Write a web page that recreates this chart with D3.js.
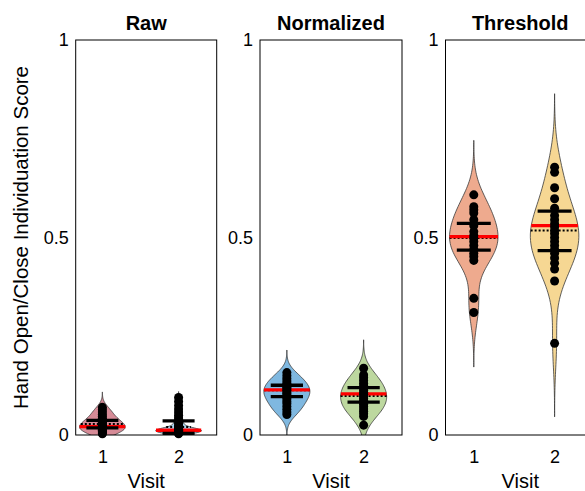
<!DOCTYPE html>
<html>
<head>
<meta charset="utf-8">
<script src="https://cdn.jsdelivr.net/npm/d3@7"></script>
<style>
  html, body { margin: 0; padding: 0; background: #fff; }
  svg { display: block; font-family: Arial, "Liberation Sans", sans-serif; }
</style>
</head>
<body>
<svg id="chart" width="585" height="491"></svg>
<script>
// ---- data ----
const panelTitles = ["Raw", "Normalized", "Threshold"];
const visits = [1, 2];
const yTicks = [0, 0.5, 1];

// individual scores per visit
const rawVisit1 = [0.070, 0.064, 0.058, 0.052, 0.047, 0.042, 0.038, 0.035, 0.032, 0.029, 0.026, 0.024,
                   0.022, 0.020, 0.018, 0.016, 0.014, 0.012, 0.010, 0.008, 0.005, 0.003];
const rawVisit2 = [0.095, 0.085, 0.075, 0.066, 0.058, 0.050, 0.043, 0.036, 0.030, 0.025,
                   0.020, 0.018, 0.016, 0.015, 0.014, 0.013, 0.012, 0.011, 0.010, 0.009,
                   0.008, 0.007, 0.006, 0.005, 0.003];
const normVisit1 = [0.158, 0.150, 0.143, 0.137, 0.131, 0.126, 0.121, 0.117, 0.113, 0.109,
                    0.105, 0.101, 0.096, 0.091, 0.085, 0.079, 0.072, 0.065, 0.058, 0.052];
const normVisit2 = [0.169, 0.152, 0.145, 0.138, 0.131, 0.125, 0.119, 0.113, 0.108, 0.103,
                    0.098, 0.093, 0.088, 0.083, 0.078, 0.072, 0.066, 0.060, 0.054, 0.047, 0.025];
const threshVisit1 = [0.608, 0.578, 0.570, 0.562, 0.545, 0.530, 0.515, 0.505, 0.498, 0.490,
                      0.480, 0.470, 0.460, 0.452, 0.442, 0.346, 0.310];
const threshVisit2 = [0.678, 0.665, 0.626, 0.598, 0.574, 0.556, 0.545, 0.535, 0.527, 0.518,
                      0.510, 0.500, 0.490, 0.480, 0.470, 0.460, 0.448, 0.435, 0.420, 0.390, 0.232];

// kernel bandwidth per violin
const bandwidths = [[0.013, 0.005], [0.019, 0.024], [0.046, 0.062]];

// summary statistics per violin
const medians = [[0.021, 0.012], [0.114, 0.104], [0.502, 0.530]];
const lowerQuartiles = [[0.018, 0.004], [0.097, 0.083], [0.468, 0.467]];
const upperQuartiles = [[0.037, 0.036], [0.126, 0.120], [0.536, 0.567]];
const means = [[0.028, 0.020], [0.113, 0.099], [0.499, 0.518]];

const scores = [[rawVisit1, rawVisit2], [normVisit1, normVisit2], [threshVisit1, threshVisit2]];

// ---- styling ----
const violinFill = [["#d68b97", "#a9d4ee"], ["#7fb8e0", "#bdd89f"], ["#eeaa8e", "#f6d793"]];
const panelRanges = [[75.7, 216.7], [260, 402], [445.5, 595]];
const plotTop = 40, plotBottom = 435;
const violinHalfWidth = 0.3;   // in x-axis units
const quartileHalfWidth = 0.21;
const FONT = "Arial, 'Liberation Sans', sans-serif";

const svg = d3.select("#chart");

const y = d3.scaleLinear().domain([0, 1]).range([plotBottom, plotTop]);

// gaussian kernel density, normalised to a peak of 1
function kde(values, bw) {
  const lo = d3.min(values) - 3 * bw, hi = d3.max(values) + 3 * bw;
  const n = 100;
  const grid = d3.range(n).map(i => lo + (hi - lo) * i / (n - 1));
  const dens = grid.map(g => d3.sum(values, v => Math.exp(-0.5 * ((g - v) / bw) ** 2)));
  const mx = d3.max(dens);
  return grid.map((g, i) => [g, dens[i] / mx]);
}

function widthAt(profile, v) {
  if (v <= profile[0][0] || v >= profile[profile.length - 1][0]) return 0;
  const i = d3.bisector(d => d[0]).left(profile, v);
  const a = profile[i - 1], b = profile[i];
  const t = (v - a[0]) / (b[0] - a[0]);
  return a[1] + t * (b[1] - a[1]);
}

panelTitles.forEach((title, p) => {
  const [x0, x1] = panelRanges[p];
  const x = d3.scaleLinear().domain([0.65, 2.5]).range([x0, x1]);
  const g = svg.append("g");

  const clipId = "clip" + p;
  svg.append("clipPath").attr("id", clipId)
    .append("rect").attr("x", x0).attr("y", plotTop).attr("width", x1 - x0).attr("height", plotBottom - plotTop);

  // y-axis (labels only, no tick marks)
  const yAxis = d3.axisLeft(y).tickValues(yTicks).tickSize(0).tickPadding(7)
    .tickFormat(d => d === 0 || d === 1 ? String(d) : d3.format(".1f")(d));
  const ya = g.append("g").attr("transform", `translate(${x0},0)`).call(yAxis);
  ya.select(".domain").remove();
  ya.selectAll("text").attr("font-size", 18).attr("fill", "#000").attr("font-family", FONT);

  // x-axis (labels only)
  const xAxis = d3.axisBottom(x).tickValues(visits).tickSize(0).tickPadding(15).tickFormat(d3.format("d"));
  const xa = g.append("g").attr("transform", `translate(0,${plotBottom})`).call(xAxis);
  xa.select(".domain").remove();
  xa.selectAll("text").attr("font-size", 18).attr("fill", "#000").attr("font-family", FONT);

  const plot = g.append("g").attr("clip-path", `url(#${clipId})`);

  visits.forEach((v, k) => {
    const vals = scores[p][k];
    const profile = kde(vals, bandwidths[p][k]);
    const cx = x(v);
    const unit = x(1) - x(0);
    const pts = profile.map(d => [cx - d[1] * violinHalfWidth * unit, y(d[0])])
      .concat(profile.slice().reverse().map(d => [cx + d[1] * violinHalfWidth * unit, y(d[0])]));
    plot.append("path")
      .attr("d", d3.line()(pts) + "Z")
      .attr("fill", violinFill[p][k])
      .attr("stroke", "#3a3a3a")
      .attr("stroke-width", 0.8);

    // mean (dotted, beneath the median)
    const mn = means[p][k];
    const mnw = widthAt(profile, mn) * violinHalfWidth;
    plot.append("line")
      .attr("x1", x(v - mnw)).attr("x2", x(v + mnw))
      .attr("y1", y(mn)).attr("y2", y(mn))
      .attr("stroke", "#000").attr("stroke-width", 2)
      .attr("stroke-dasharray", "2,2");

    // median
    const med = medians[p][k];
    const mw = widthAt(profile, med) * violinHalfWidth;
    plot.append("line")
      .attr("x1", x(v - mw)).attr("x2", x(v + mw))
      .attr("y1", y(med)).attr("y2", y(med))
      .attr("stroke", "#ff0000").attr("stroke-width", 3.3);

    // quartiles
    [lowerQuartiles[p][k], upperQuartiles[p][k]].forEach(q => {
      plot.append("line")
        .attr("x1", x(v - quartileHalfWidth)).attr("x2", x(v + quartileHalfWidth))
        .attr("y1", y(q)).attr("y2", y(q))
        .attr("stroke", "#000").attr("stroke-width", 3.3);
    });

    // individual scores
    g.append("g").selectAll("circle").data(vals).join("circle")
      .attr("cx", cx).attr("cy", d => y(d)).attr("r", 4.5)
      .attr("fill", "#000");
  });

  // box
  g.append("rect")
    .attr("x", x0).attr("y", plotTop).attr("width", x1 - x0).attr("height", plotBottom - plotTop)
    .attr("fill", "none").attr("stroke", "#000").attr("stroke-width", 1);

  // title
  g.append("text")
    .attr("x", (x0 + x1) / 2).attr("y", 30)
    .attr("text-anchor", "middle").attr("font-size", 20).attr("font-weight", "bold")
    .text(title);

  // x label
  g.append("text")
    .attr("x", (x0 + x1) / 2).attr("y", 488)
    .attr("text-anchor", "middle").attr("font-size", 20)
    .text("Visit");
});

// y label
svg.append("text")
  .attr("transform", `translate(28,${(plotTop + plotBottom) / 2}) rotate(-90)`)
  .attr("text-anchor", "middle").attr("font-size", 20.5)
  .text("Hand Open/Close Individuation Score");
</script>
</body>
</html>
